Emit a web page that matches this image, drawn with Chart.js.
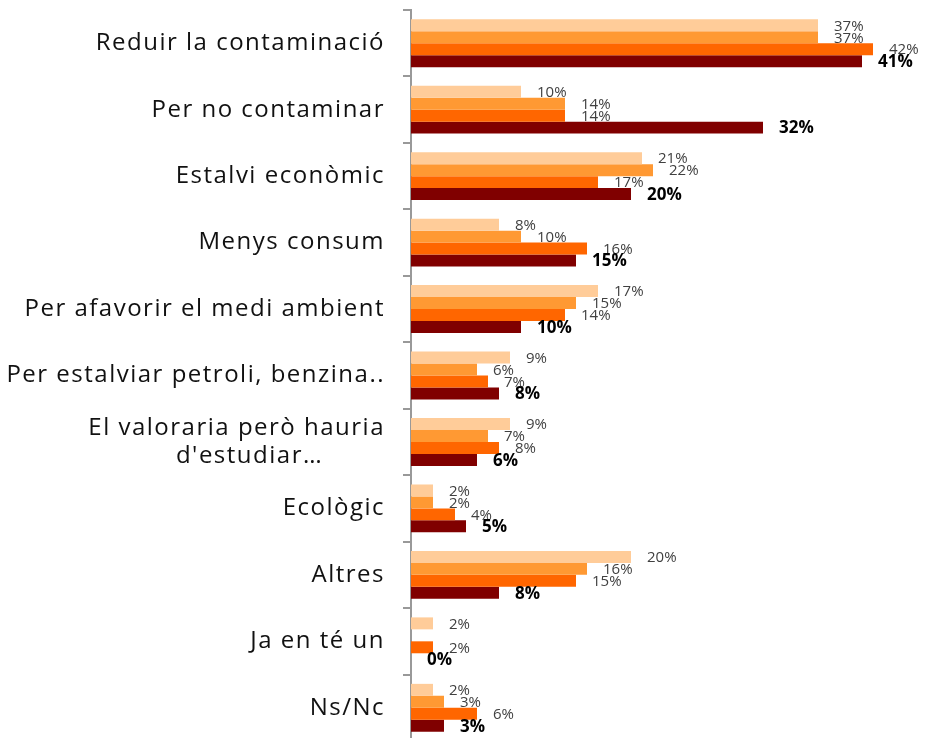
<!DOCTYPE html>
<html>
<head>
<meta charset="utf-8">
<title>Motius</title>
<script src="https://cdn.jsdelivr.net/npm/chart.js@4/dist/chart.umd.min.js"></script>
<style>
  html, body { margin: 0; padding: 0; background: #fff; overflow: hidden; }
  #wrap { position: relative; width: 928px; height: 745px; }
</style>
</head>
<body>
<div id="wrap"><canvas id="chart"></canvas></div>
<script>
// Categories (top to bottom). The second line of the long label is padded so it sits centred under the first.
const categories = [
  'Reduir la contaminació',
  'Per no contaminar',
  'Estalvi econòmic',
  'Menys consum',
  'Per afavorir el medi ambient',
  'Per estalviar petroli, benzina..',
  ['El valoraria però hauria', 'd\'estudiar…' + '\u00A0'.repeat(8)],
  'Ecològic',
  'Altres',
  'Ja en té un',
  'Ns/Nc'
];

// Percentages per series
const serie1 = [37, 10, 21, 8, 17, 9, 9, 2, 20, 2, 2];
const serie2 = [37, 14, 22, 10, 15, 6, 7, 2, 16, null, 3];
const serie3 = [42, 14, 17, 16, 14, 7, 8, 4, 15, 2, 6];
const serie4 = [41, 32, 20, 15, 10, 8, 6, 5, 8, 0, 3];

const seriesNames = ['Sèrie 1', 'Sèrie 2', 'Sèrie 3', 'Sèrie 4'];
const seriesColors = ['#FFCC99', '#FF9933', '#FF6600', '#800000'];

const normalLabel = { font: '15px "Open Sans"', color: '#404040' };
const boldLabel = { font: 'bold 17px "Open Sans"', color: '#000000' };

// Wider tracking for the category names on the left
const categoryTracking = {
  id: 'categoryTracking',
  beforeDraw(chart) { chart.ctx.letterSpacing = '1.5px'; },
  beforeDatasetsDraw(chart) { chart.ctx.letterSpacing = '0px'; }
};

// Draws "NN%" just past the end of every bar
const barValueLabels = {
  id: 'barValueLabels',
  afterDatasetsDraw(chart) {
    const ctx = chart.ctx;
    chart.data.datasets.forEach((ds, i) => {
      const meta = chart.getDatasetMeta(i);
      if (meta.hidden) return;
      const style = ds.valueLabel;
      meta.data.forEach((el, j) => {
        const v = ds.data[j];
        if (v === null || v === undefined || !isFinite(el.x)) return;
        ctx.save();
        ctx.letterSpacing = '0px';
        ctx.font = style.font;
        ctx.fillStyle = style.color;
        ctx.textAlign = 'left';
        ctx.textBaseline = 'middle';
        ctx.fillText(v + '%', el.x + 16, el.y + 1);
        ctx.restore();
      });
    });
  }
};

const values = [serie1, serie2, serie3, serie4];

new Chart(document.getElementById('chart'), {
  type: 'bar',
  data: {
    labels: categories,
    datasets: values.map((d, i) => ({
      label: seriesNames[i],
      data: d,
      backgroundColor: seriesColors[i],
      borderWidth: 0,
      categoryPercentage: 0.72,
      barPercentage: 1.0,
      valueLabel: i === 3 ? boldLabel : normalLabel
    }))
  },
  options: {
    indexAxis: 'y',
    responsive: true,
    maintainAspectRatio: false,
    animation: false,
    layout: { padding: { top: 10, bottom: 4, left: 0, right: 22 } },
    plugins: {
      legend: { display: false },
      tooltip: { enabled: false }
    },
    scales: {
      x: {
        display: false,
        min: 0,
        max: 45
      },
      y: {
        afterFit(scale) {
          scale.width = 411;
          scale.paddingTop = 0;
          scale.paddingBottom = 0;
        },
        grid: {
          offset: true,
          drawOnChartArea: false,
          drawTicks: true,
          tickLength: 8,
          color: '#999999',
          lineWidth: 2
        },
        border: { display: true, color: '#999999', width: 2 },
        ticks: {
          padding: 18,
          color: '#111111',
          font: { family: '"Open Sans"', size: 24, lineHeight: 1.17 }
        }
      }
    }
  },
  plugins: [categoryTracking, barValueLabels]
});
</script>
</body>
</html>
